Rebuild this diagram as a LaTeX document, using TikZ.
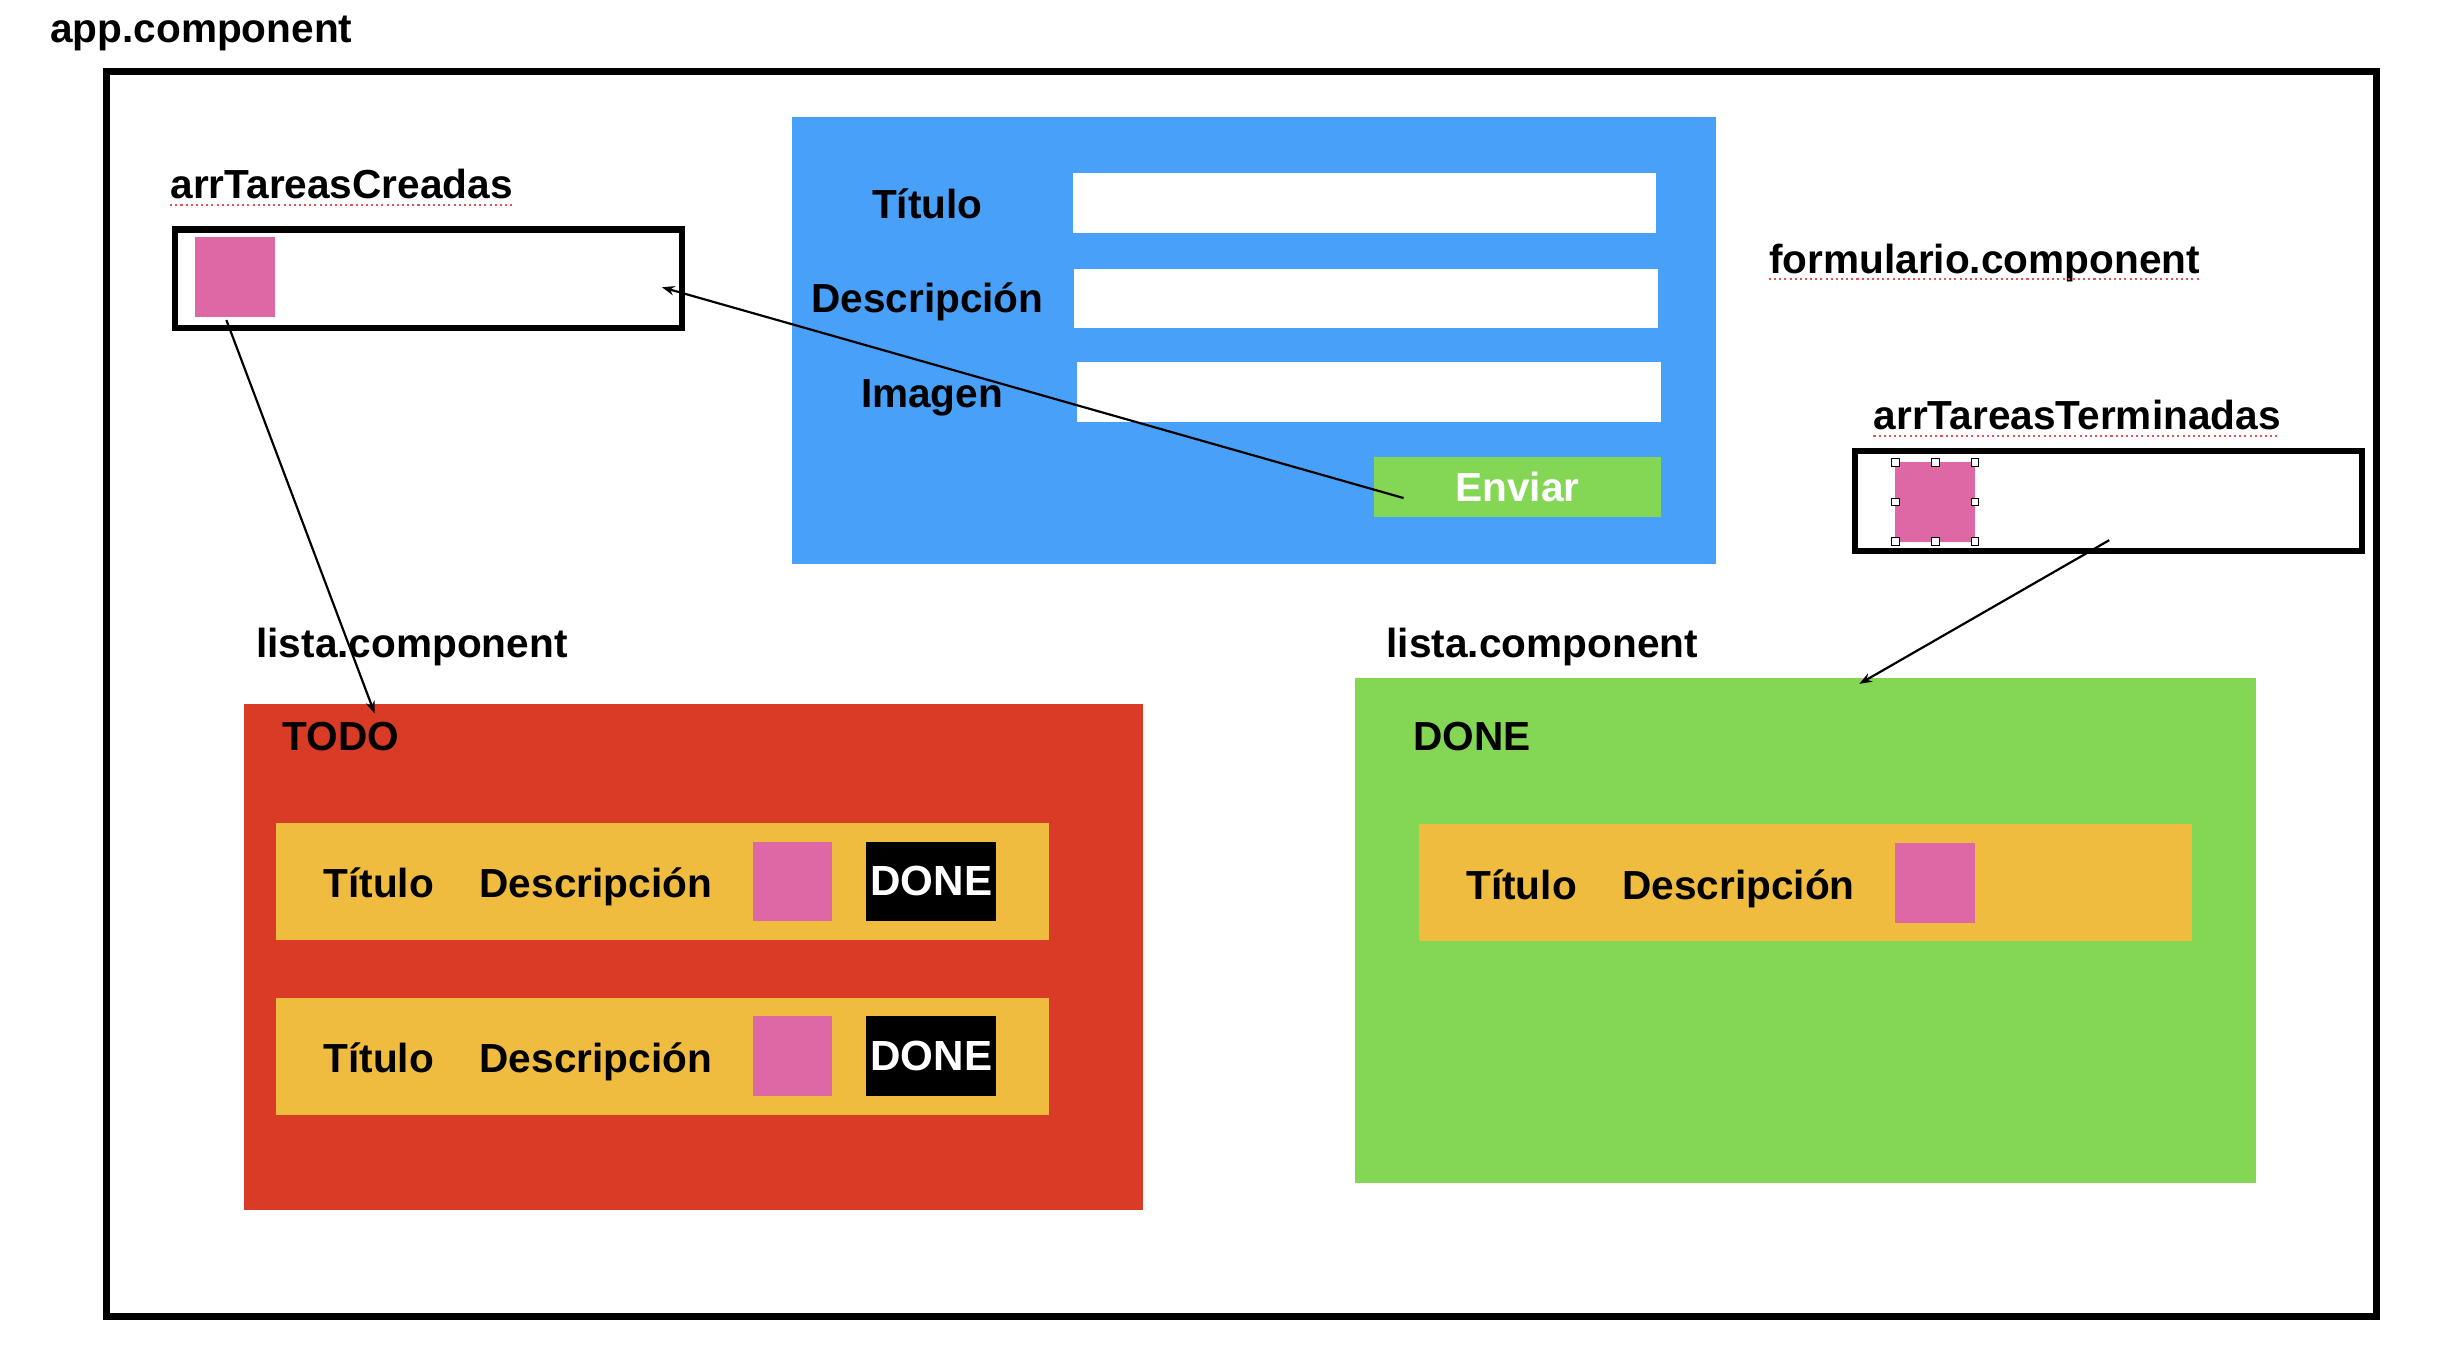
\documentclass[tikz,border=0pt]{standalone}
\usepackage{fontspec}
\setmainfont{Liberation Sans}
\usetikzlibrary{arrows.meta}
\definecolor{formblue}{RGB}{72,160,248}
\definecolor{todored}{RGB}{218,59,38}
\definecolor{donegreen}{RGB}{131,215,84}
\definecolor{roworange}{RGB}{239,188,64}
\definecolor{itempink}{RGB}{222,104,166}
\definecolor{spellred}{RGB}{235,80,80}
\begin{document}
\begin{tikzpicture}[x=1pt,y=-1pt,
  lbl/.style={font=\bfseries\fontsize{26}{30}\selectfont, inner sep=0pt, anchor=base west},
  clbl/.style={lbl, anchor=base},
  box/.style={draw=black, line width=4pt, fill=white, inner sep=0pt, outer sep=0pt, anchor=north west},
  panel/.style={inner sep=0pt, outer sep=0pt, anchor=north west, draw=none},
  field/.style={panel, fill=white},
  pinkbox/.style={panel, fill=itempink, minimum width=51pt, minimum height=51pt},
  rowbox/.style={panel, fill=roworange, minimum width=495pt, minimum height=75pt},
  donebtn/.style={fill=black, text=white, inner sep=0pt, outer sep=0pt, anchor=north west, minimum width=83pt, minimum height=51pt, font=\bfseries\fontsize{27}{30}\selectfont},
  handle/.style={draw=black, line width=0.6pt, fill=white, inner sep=0pt, minimum size=5pt},
  spell/.style={spellred, dotted, line width=1.3pt},
  conn/.style={line width=1.4pt, -{Stealth[length=8pt,width=6pt]}}
]
\useasboundingbox (0,0) rectangle (1568,861);

% outer frame
\node[panel, draw=black, line width=4.5pt, minimum width=1454pt, minimum height=797pt] (app) at (68,46) {};
\node[lbl] (applbl) at (32,27) {app.component};

% arrTareasCreadas
\node[lbl] (creadaslbl) at (109,127) {arrTareasCreadas};
\draw[spell] (109,131) -- (329,131);
\node[box, minimum width=325pt, minimum height=63pt] (boxA) at (112,147) {};
\node[pinkbox] (pinkA) at (125,152) {};

% form
\node[panel, fill=formblue, minimum width=592pt, minimum height=286pt] (form) at (507,75) {};
\node[clbl] (ftit) at (594,140) {Título};
\node[clbl] (fdesc) at (594,200) {Descripción};
\node[clbl] (fimg) at (597,261) {Imagen};
\node[field, minimum width=374pt, minimum height=38pt] (field1) at (687,111) {};
\node[field, minimum width=374pt, minimum height=38pt] (field2) at (688,172) {};
\node[field, minimum width=374pt, minimum height=38pt] (field3) at (690,232) {};
\node[panel, fill=donegreen, minimum width=184pt, minimum height=38pt] (enviar) at (880,293) {};
\node[font=\bfseries\fontsize{26}{30}\selectfont, text=white, inner sep=0pt] (enviarlbl) at (enviar.center) {Enviar};

\node[lbl] (formlbl) at (1133,175) {formulario.component};
\draw[spell] (1133,179) -- (1410,179);

% arrTareasTerminadas
\node[lbl] (termlbl) at (1200,275) {arrTareasTerminadas};
\draw[spell] (1200,279) -- (1460,279);
\node[box, minimum width=325pt, minimum height=64pt] (boxB) at (1188,289) {};
\node[pinkbox] (pinkB) at (1214,296) {};
\foreach \a in {north west,north,north east,west,east,south west,south,south east}
  \node[handle] at (pinkB.\a) {};

% lista labels
\node[lbl] (listaL) at (164,421) {lista.component};
\node[lbl] (listaR) at (888,421) {lista.component};

% TODO panel
\node[panel, fill=todored, minimum width=576pt, minimum height=324pt] (todo) at (156,451) {};
\node[lbl] (todolbl) at (181,481) {TODO};
\node[rowbox] (row1) at (177,527) {};
\node[lbl] (r1t) at (207,575) {Título};
\node[lbl] (r1d) at (307,575) {Descripción};
\node[pinkbox] (r1p) at (482,539) {};
\node[donebtn] (r1b) at (555,539) {DONE};
\node[rowbox] (row2) at (177,639) {};
\node[lbl] (r2t) at (207,687) {Título};
\node[lbl] (r2d) at (307,687) {Descripción};
\node[pinkbox] (r2p) at (482,651) {};
\node[donebtn] (r2b) at (555,651) {DONE};

% DONE panel
\node[panel, fill=donegreen, minimum width=577pt, minimum height=324pt] (done) at (868,434) {};
\node[lbl] (donelbl) at (905,481) {DONE};
\node[rowbox] (row3) at (909,528) {};
\node[lbl] (r3t) at (939,576) {Título};
\node[lbl] (r3d) at (1039,576) {Descripción};
\node[pinkbox] (r3p) at (1214,540) {};

% connectors
\coordinate (enviarTail) at (899,319);
\coordinate (boxAHead) at (424,184);
\coordinate (pinkATail) at (145,205);
\coordinate (todoHead) at (240,457);
\coordinate (boxBTail) at (1351,346);
\coordinate (doneHead) at (1191,438);
\draw[conn] (enviarTail) -- (boxAHead);
\draw[conn] (pinkATail) -- (todoHead);
\draw[conn] (boxBTail) -- (doneHead);
\end{tikzpicture}
\end{document}
